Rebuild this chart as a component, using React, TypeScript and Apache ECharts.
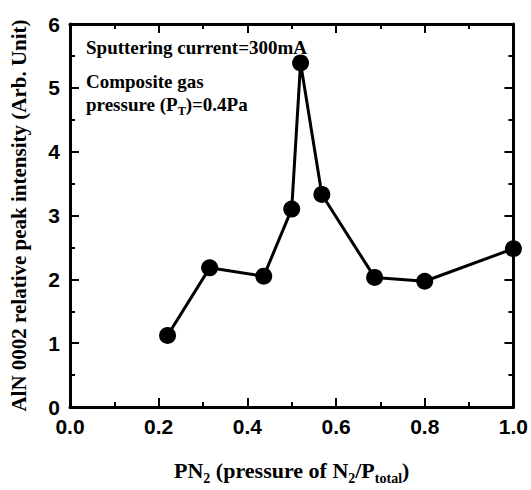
import React, { useEffect, useRef } from "react";
import * as echarts from "echarts";

const xValues = [0.22, 0.315, 0.437, 0.5, 0.52, 0.568, 0.687, 0.8, 1.0];
const yValues = [1.12, 2.18, 2.05, 3.1, 5.39, 3.33, 2.03, 1.97, 2.48];
const annotationLine1 = "Sputtering current=300mA";
const annotationLine2 = "Composite gas";
const annotationLine3 = "pressure (P{sub|T})=0.4Pa";
const xTitle = "PN{sub|2} (pressure of N{sub|2}/P{sub|total})";
const yTitle = "AlN 0002 relative peak intensity (Arb. Unit)";

const SERIF = "'Liberation Serif', 'Times New Roman', serif";
const SANS = "'Liberation Sans', Arial, sans-serif";

export default function App() {
  const ref = useRef<HTMLDivElement>(null);
  useEffect(() => {
    if (!ref.current) return;
    const chart = echarts.init(ref.current, undefined, { renderer: "svg" });
    const axisLine = { show: true, onZero: false, lineStyle: { color: "#000", width: 3 } };
    const axisTick = { show: true, inside: true, length: 9, lineStyle: { color: "#000", width: 2 } };
    const minorTick = { show: true, splitNumber: 2, length: 5, lineStyle: { color: "#000", width: 2 } };
    const subRich = {
      sub: {
        fontFamily: SERIF,
        fontWeight: "bold" as const,
        fontSize: 14,
        lineHeight: 14,
        verticalAlign: "bottom" as const,
        color: "#000",
      },
    };
    chart.setOption({
      animation: false,
      backgroundColor: "#fff",
      grid: { left: 69, right: 15, top: 24, bottom: 78 },
      xAxis: [
        {
          type: "value",
          min: 0,
          max: 1,
          interval: 0.2,
          position: "bottom",
          axisLine,
          axisTick,
          minorTick,
          splitLine: { show: false },
          axisLabel: {
            margin: 9,
            color: "#000",
            fontFamily: SANS,
            fontWeight: "bold",
            fontSize: 21,
            formatter: (v: number) => v.toFixed(1),
          },
          name: xTitle,
          nameLocation: "middle",
          nameGap: 48,
          nameTextStyle: {
            color: "#000",
            fontFamily: SERIF,
            fontWeight: "bold",
            fontSize: 22,
            lineHeight: 30,
            rich: subRich,
          },
        },
        {
          type: "value",
          min: 0,
          max: 1,
          interval: 0.2,
          position: "top",
          axisLine,
          axisTick,
          minorTick,
          splitLine: { show: false },
          axisLabel: { show: false },
        },
      ],
      yAxis: [
        {
          type: "value",
          min: 0,
          max: 6,
          interval: 1,
          position: "left",
          axisLine,
          axisTick,
          minorTick,
          splitLine: { show: false },
          axisLabel: {
            margin: 10,
            color: "#000",
            fontFamily: SANS,
            fontWeight: "bold",
            fontSize: 21,
          },
          name: yTitle,
          nameLocation: "middle",
          nameGap: 41,
          nameTextStyle: {
            color: "#000",
            fontFamily: SERIF,
            fontWeight: "bold",
            fontSize: 21,
          },
        },
        {
          type: "value",
          min: 0,
          max: 6,
          interval: 1,
          position: "right",
          axisLine,
          axisTick,
          minorTick,
          splitLine: { show: false },
          axisLabel: { show: false },
        },
      ],
      series: [
        {
          type: "line",
          data: xValues.map((x, i) => [x, yValues[i]]),
          symbol: "circle",
          symbolSize: 17,
          clip: false,
          lineStyle: { color: "#000", width: 3 },
          itemStyle: { color: "#000" },
          z: 5,
        },
      ],
      graphic: [
        {
          type: "text",
          x: 86,
          y: 47,
          style: {
            text: annotationLine1,
            fill: "#000",
            font: `bold 19px ${SERIF}`,
            verticalAlign: "middle",
          },
        },
        {
          type: "text",
          x: 86,
          y: 81,
          style: {
            text: annotationLine2,
            fill: "#000",
            font: `bold 19px ${SERIF}`,
            verticalAlign: "middle",
          },
        },
        {
          type: "text",
          x: 86,
          y: 104,
          style: {
            text: annotationLine3,
            fill: "#000",
            fontFamily: SERIF,
            fontWeight: "bold",
            fontSize: 19,
            lineHeight: 26,
            verticalAlign: "middle",
            rich: {
              sub: {
                fontFamily: SERIF,
                fontWeight: "bold",
                fontSize: 12,
                lineHeight: 12,
                verticalAlign: "bottom",
                fill: "#000",
              },
            },
          },
        },
      ],
    });
    return () => chart.dispose();
  }, []);
  return <div ref={ref} style={{ width: 531, height: 490, position: "absolute", left: 0, top: 0 }} />;
}
